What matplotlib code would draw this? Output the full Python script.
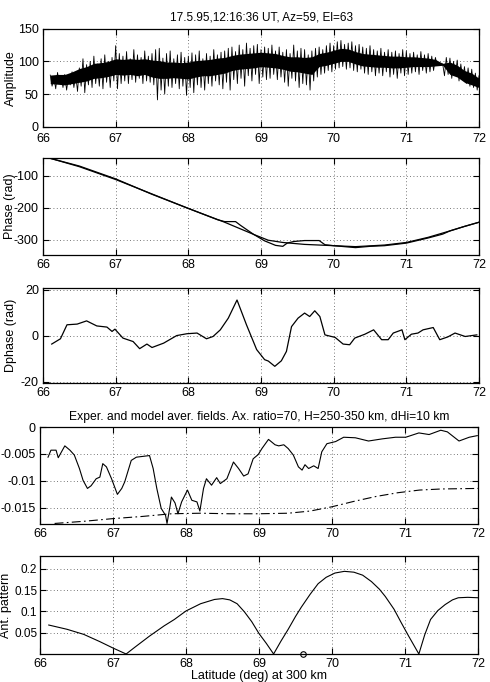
import numpy as np
import matplotlib
matplotlib.use("Agg")
import matplotlib.pyplot as plt

plt.rcParams['font.family'] = ['Liberation Sans', 'DejaVu Sans']
plt.rcParams['axes.unicode_minus'] = False
plt.rcParams['font.size'] = 9

# ---- Amplitude (dense noisy trace: core band + read-off peaks/dips) ----
amp_lat = np.round(np.arange(66.1, 72.001, 0.1), 2)
amp_core_hi = [79, 80, 80, 84, 89, 92, 97, 98, 100, 104,
               103, 104, 103, 104, 102, 101, 99, 99, 98, 99,
               101, 102, 103, 105, 106, 109, 111, 112, 113, 114,
               113, 112, 109, 107, 107, 106, 107, 112, 114, 117,
               120, 119, 115, 112, 111, 110, 109, 108, 108, 107,
               107, 106, 105, 103, 97, 99, 94, 86, 82, 74]
amp_core_lo = [66, 65, 64, 66, 68, 70, 74, 75, 77, 80,
               79, 80, 78, 80, 76, 74, 74, 75, 74, 73,
               76, 78, 78, 80, 82, 86, 88, 89, 90, 92,
               91, 90, 88, 85, 84, 82, 80, 92, 94, 97,
               100, 100, 96, 93, 92, 91, 91, 90, 90, 91,
               92, 92, 92, 93, 94, 80, 76, 68, 64, 60]
peak_lat = np.round(np.arange(66.1, 72.001, 0.05), 3)
amp_peaks = [79, 75, 83, 77, 80, 76, 84, 80, 90, 104,
             95, 100, 108, 96, 104, 110, 100, 106, 124, 112,
             108, 115, 104, 118, 110, 106, 116, 108, 112, 118,
             120, 105, 112, 116, 104, 110, 114, 106, 108, 113,
             110, 116, 104, 112, 108, 118, 110, 114, 116, 120,
             122, 115, 125, 118, 128, 120, 124, 126, 118, 122,
             120, 125, 116, 122, 114, 118, 112, 125, 116, 120,
             118, 110, 116, 120, 122, 118, 124, 128, 124, 130,
             132, 126, 128, 130, 124, 126, 122, 120, 124, 118,
             116, 120, 114, 118, 114, 116, 112, 118, 116, 112,
             114, 110, 115, 110, 112, 108, 106, 97, 96, 106,
             105, 100, 102, 96, 92, 90, 88, 82, 78]
dip_lat = np.round(np.arange(66.125, 71.99, 0.05), 3)
amp_dips = [62, 58, 66, 60, 56, 64, 60, 54, 62, 52,
            64, 60, 66, 62, 58, 68, 60, 70, 58, 66,
            70, 66, 72, 68, 74, 66, 70, 68, 64, 41,
            56, 50, 62, 60, 66, 58, 62, 48, 60, 52,
            64, 60, 56, 66, 62, 70, 64, 58, 68, 56,
            72, 66, 74, 62, 78, 70, 80, 66, 76, 72,
            74, 80, 72, 76, 68, 62, 74, 70, 60, 66,
            64, 56, 70, 76, 80, 82, 86, 84, 88, 90,
            92, 88, 90, 86, 84, 88, 82, 80, 84, 78,
            82, 78, 84, 76, 80, 74, 82, 78, 80, 82,
            84, 80, 86, 82, 84, 86, 94, 95, 78, 80,
            74, 78, 70, 72, 66, 62, 60, 56]

# ---- Phase: model (smooth) and experiment ----
phase_mod_lat = [66.1, 66.5, 67.0, 67.5, 68.0, 68.5, 68.9, 69.1, 69.3, 69.6,
                 70.0, 70.3, 70.7, 71.0, 71.3, 71.6, 71.8, 72.0]
phase_mod = [-46, -72, -112, -157, -202, -245, -283, -301, -308, -314,
             -318, -321, -316, -308, -292, -272, -258, -245]
phase_exp_lat = [66.1, 66.5, 67.0, 67.5, 68.0, 68.4, 68.5, 68.65, 68.72, 68.9,
                 69.05, 69.2, 69.3, 69.36, 69.45, 69.6, 69.8, 69.88, 70.0, 70.2,
                 70.3, 70.5, 70.7, 71.0, 71.3, 71.5, 71.6, 71.8, 72.0]
phase_exp = [-46, -70, -110, -158, -202, -237, -243, -243, -255, -283,
             -303, -317, -320, -310, -305, -302, -302, -315, -318, -322,
             -324, -320, -318, -310, -294, -282, -272, -258, -245]

# ---- Dphase ----
dph_lat = [66.12, 66.24, 66.33, 66.47, 66.6, 66.74, 66.88, 66.95, 66.99, 67.1,
           67.24, 67.33, 67.43, 67.5, 67.66, 67.84, 67.98, 68.12, 68.25, 68.34,
           68.44, 68.55, 68.67, 68.8, 68.94, 69.05, 69.1, 69.19, 69.28, 69.35,
           69.42, 69.51, 69.6, 69.67, 69.74, 69.81, 69.88, 70.02, 70.13, 70.22,
           70.29, 70.43, 70.55, 70.66, 70.75, 70.82, 70.94, 70.98, 71.07, 71.16,
           71.23, 71.37, 71.46, 71.57, 71.67, 71.81, 71.97]
dphase = [-3.6, -1.3, 4.8, 5.1, 6.5, 4.3, 3.8, 1.9, 2.9, -1.0,
          -2.5, -5.6, -3.6, -5.1, -3.2, 0.1, 0.9, 1.2, -1.3, -0.3,
          2.6, 7.7, 15.6, 4.8, -6.0, -10.4, -11.0, -13.3, -10.9, -6.8,
          4.0, 7.7, 9.9, 8.4, 10.9, 8.4, 0.4, -0.7, -3.6, -3.9,
          -1.0, 0.7, 2.6, -1.7, -1.7, 1.2, 2.6, -1.7, 0.7, 1.2,
          2.6, 3.6, -1.7, -0.5, 1.2, -0.3, 0.4]

# ---- Averaged fields: experiment (solid) and model (dash-dot) ----
fld_lat = [66.11, 66.15, 66.22, 66.25, 66.34, 66.41, 66.47, 66.54, 66.59, 66.65,
           66.7, 66.77, 66.82, 66.86, 66.91, 66.98, 67.06, 67.12, 67.16, 67.25,
           67.32, 67.44, 67.5, 67.55, 67.6, 67.66, 67.72, 67.74, 67.78, 67.8,
           67.85, 67.89, 67.94, 68.02, 68.08, 68.15, 68.19, 68.24, 68.28, 68.35,
           68.42, 68.47, 68.56, 68.65, 68.72, 68.79, 68.85, 68.92, 68.99, 69.04,
           69.13, 69.22, 69.27, 69.34, 69.4, 69.47, 69.54, 69.59, 69.63, 69.68,
           69.75, 69.81, 69.86, 69.93, 70.05, 70.16, 70.32, 70.5, 70.69, 70.87,
           71.01, 71.19, 71.33, 71.49, 71.58, 71.74, 71.88, 71.99]
fld_exp = [-0.0056, -0.0043, -0.0043, -0.0057, -0.0035, -0.0043, -0.0052, -0.0077, -0.0099, -0.0114,
           -0.0109, -0.0096, -0.0093, -0.0068, -0.0074, -0.0096, -0.0125, -0.0114, -0.0102, -0.0062,
           -0.0056, -0.0054, -0.0053, -0.0077, -0.0114, -0.0151, -0.0164, -0.0179, -0.0148, -0.0130,
           -0.0141, -0.0161, -0.0139, -0.0117, -0.0136, -0.0139, -0.0156, -0.0114, -0.0096, -0.0108,
           -0.0094, -0.0105, -0.0096, -0.0065, -0.0077, -0.0091, -0.0087, -0.0059, -0.0051, -0.0040,
           -0.0023, -0.0033, -0.0035, -0.0033, -0.0040, -0.0052, -0.0074, -0.0080, -0.0070, -0.0077,
           -0.0072, -0.0077, -0.0046, -0.0031, -0.0027, -0.0019, -0.0020, -0.0026, -0.0022, -0.0019,
           -0.0019, -0.0011, -0.0014, -0.0006, -0.0009, -0.0026, -0.0019, -0.0016]
mod_lat = [66.2, 66.6, 67.0, 67.4, 67.8, 68.2, 68.6, 69.0, 69.4, 69.7,
           70.0, 70.3, 70.6, 70.9, 71.2, 71.5, 72.0]
fld_mod = [-0.0179, -0.0175, -0.0170, -0.0166, -0.0161, -0.0160, -0.0161, -0.0161, -0.0160, -0.0156,
           -0.0148, -0.0138, -0.0129, -0.0122, -0.0117, -0.0115, -0.0114]

# ---- Antenna pattern ----
ant_lat = [66.12, 66.37, 66.6, 66.82, 67.0, 67.18,
           67.3, 67.5, 67.7, 67.84, 68.0, 68.2, 68.39, 68.5, 68.6, 68.7, 68.8, 68.9, 69.0, 69.1, 69.2,
           69.3, 69.4, 69.5, 69.58, 69.7, 69.81, 69.92, 70.04, 70.17, 70.3, 70.42, 70.54, 70.65,
           70.73, 70.85, 70.95, 71.05, 71.19,
           71.27, 71.35, 71.45, 71.55, 71.65, 71.73, 71.86, 72.0]
ant_pat = [0.068, 0.058, 0.046, 0.029, 0.014, 0.0,
           0.016, 0.042, 0.066, 0.081, 0.101, 0.118, 0.128, 0.130, 0.127, 0.118, 0.099, 0.076, 0.048, 0.025, 0.0,
           0.030, 0.058, 0.088, 0.110, 0.140, 0.165, 0.180, 0.190, 0.194, 0.192, 0.185, 0.170, 0.152,
           0.135, 0.105, 0.073, 0.042, 0.0,
           0.045, 0.081, 0.102, 0.116, 0.127, 0.132, 0.133, 0.132]
marker_lat = [69.6]
marker_val = [0.0]

lat_ticks = [66, 67, 68, 69, 70, 71, 72]

W, H = 490.0, 682.0


def box(left, top, right, bottom):
    return [left / W, 1 - bottom / H, (right - left) / W, (bottom - top) / H]


def style(ax, yticks, ylims, ylabel=None, yticklabels=None, label_x=17, ysize=9):
    ax.set_xlim(66, 72)
    ax.set_ylim(*ylims)
    ax.set_xticks(lat_ticks)
    ax.set_yticks(yticks)
    if yticklabels is not None:
        ax.set_yticklabels(yticklabels)
    ax.grid(True, color='black', linestyle=(0, (1, 3)), linewidth=0.6, alpha=0.7)
    ax.tick_params(direction='in', top=True, right=True, length=4, width=0.8, labelsize=9, pad=3)
    ax.tick_params(axis='y', labelsize=ysize)
    for s in ax.spines.values():
        s.set_linewidth(0.9)
    if ylabel:
        ax.set_ylabel(ylabel, fontsize=9)
        # put the label at a fixed pixel column like the original
        x0 = ax.get_position().x0 * W
        ax.yaxis.set_label_coords((label_x - x0) / (ax.get_position().width * W), 0.5)


fig = plt.figure(figsize=(4.9, 6.82), dpi=100)

# Amplitude
ax1 = fig.add_axes(box(43, 28.7, 479, 126.7))
ax1.fill_between(amp_lat, amp_core_lo, amp_core_hi, color='black', linewidth=0)
zig_lat = np.empty(len(peak_lat) + len(dip_lat))
zig_val = np.empty_like(zig_lat)
zig_lat[0::2] = peak_lat
zig_lat[1::2] = dip_lat
zig_val[0::2] = amp_peaks
zig_val[1::2] = amp_dips
ax1.plot(zig_lat, zig_val, color='black', linewidth=0.6)
style(ax1, [0, 50, 100, 150], (0, 150), 'Amplitude')
ax1.tick_params(axis='x', pad=4.5)
ax1.set_title('17.5.95,12:16:36 UT, Az=59, El=63', fontsize=8.5, pad=6)

# Phase
ax2 = fig.add_axes(box(43, 158, 479, 255))
ax2.plot(phase_mod_lat, phase_mod, color='black', linewidth=0.9)
ax2.plot(phase_exp_lat, phase_exp, color='black', linewidth=0.9)
style(ax2, [-300, -200, -100], (-347, -45), 'Phase (rad)', label_x=16)

# Dphase
ax3 = fig.add_axes(box(43, 288.3, 479, 383.3))
ax3.plot(dph_lat, dphase, color='black', linewidth=0.9)
style(ax3, [-20, 0, 20], (-20.7, 20.7), 'Dphase (rad)')

# Averaged fields
ax4 = fig.add_axes(box(40, 427, 478, 524))
ax4.plot(fld_lat, fld_exp, color='black', linewidth=0.8)
ax4.plot(mod_lat, fld_mod, color='black', linewidth=0.8, linestyle=(0, (8, 3, 1.5, 3)))
style(ax4, [-0.015, -0.01, -0.005, 0], (-0.018, 0),
      yticklabels=['-0.015', '-0.01', '-0.005', '0'])
ax4.set_title('Exper. and model aver. fields. Ax. ratio=70, H=250-350 km, dHi=10 km',
              fontsize=8.7, pad=5)

# Antenna pattern
ax5 = fig.add_axes(box(40, 556, 478, 654))
ax5.plot(ant_lat, ant_pat, color='black', linewidth=0.8)
ax5.plot(marker_lat, marker_val, marker='o', markersize=4, markerfacecolor='none',
         markeredgecolor='black', markeredgewidth=0.8, linestyle='none', clip_on=False)
style(ax5, [0.05, 0.1, 0.15, 0.2], (0, 0.23), 'Ant. pattern', label_x=12, ysize=8.5,
      yticklabels=['0.05', '0.1', '0.15', '0.2'])
ax5.tick_params(axis='y', pad=2)
ax5.set_xlabel('Latitude (deg) at 300 km', fontsize=9, labelpad=0)

fig.savefig('out.png', dpi=100)
